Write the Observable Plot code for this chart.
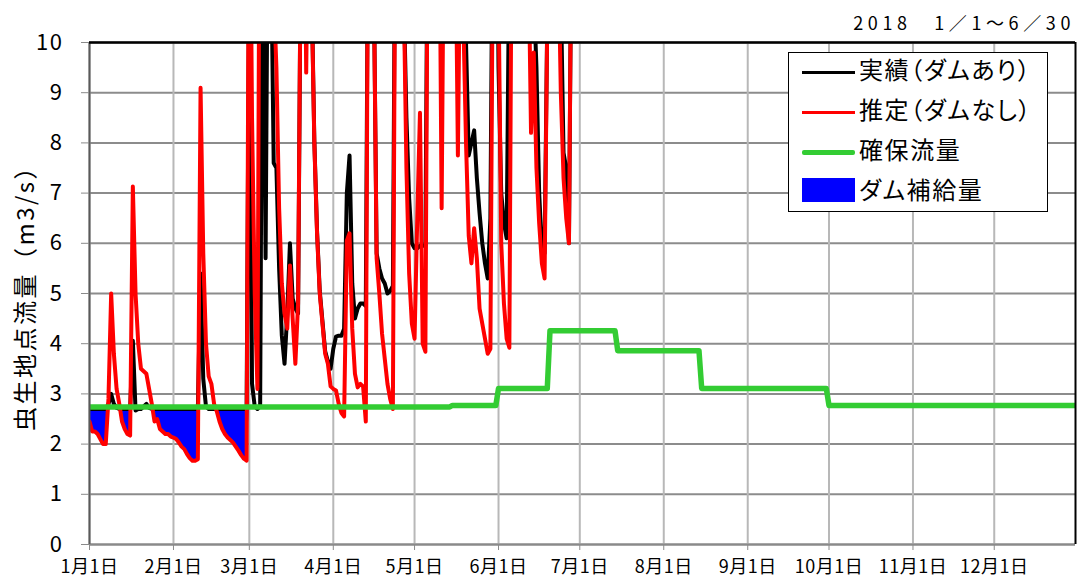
<!DOCTYPE html>
<html><head><meta charset="utf-8">
<script src="https://cdn.jsdelivr.net/npm/d3@7"></script>
<script src="https://cdn.jsdelivr.net/npm/@observablehq/plot@0.6"></script>
<style>
body{margin:0;background:#fff;}
#wrap{position:relative;width:1079px;height:581px;font-family:'Noto Sans CJK JP',sans-serif;color:#000;}
#title{position:absolute;right:4px;top:9px;font-size:18px;line-height:26px;letter-spacing:4.6px;white-space:nowrap;}
#legend{position:absolute;left:788px;top:52px;width:260px;height:160px;border:1.5px solid #000;background:#fff;box-sizing:border-box;}
.lt{position:absolute;left:70px;font-size:24px;line-height:28px;white-space:nowrap;font-feature-settings:"palt";letter-spacing:1.6px;}
.ls{position:absolute;left:13px;width:53px;}
</style></head>
<body><div id="wrap"><div id="chart"></div>
<div id="title">2018　1／1～6／30</div>
<div id="legend">
 <div class="ls" style="top:18px;height:3px;background:#000"></div><div class="lt" style="top:2px">実績（ダムあり）</div>
 <div class="ls" style="top:58px;height:3px;background:#ff0000"></div><div class="lt" style="top:42px">推定（ダムなし）</div>
 <div class="ls" style="top:97px;height:5px;background:#33cc33;border-radius:2px"></div><div class="lt" style="top:82px">確保流量</div>
 <div class="ls" style="top:125px;height:24px;background:#0000ff"></div><div class="lt" style="top:122px">ダム補給量</div>
</div>
</div>
<script>
// daily values from 2018-01-01 to 2018-06-30
const startDate = "2018-01-01";
const actual = [
 2.7,2.7,2.7,2.7,2.7,2.7,2.7,2.8,3.0,2.8,2.72,2.7,2.7,2.7,2.7,2.7,4.06,2.67,2.7,2.7,2.75,2.8,2.72,2.7,2.7,2.7,2.7,2.7,2.7,2.7,2.7,
 2.7,2.7,2.7,2.7,2.7,2.7,2.7,2.7,2.7,2.7,5.4,3.3,2.75,2.7,2.7,2.7,2.7,2.7,2.7,2.7,2.7,2.7,2.7,2.7,2.7,2.7,2.7,2.7,
 12,3.2,2.75,2.7,2.75,14,5.7,14,12,7.6,7.5,5.5,4.16,3.6,4.6,6.0,4.9,4.7,4.6,12,15,13,14,11.1,8.05,6.25,5.05,4.45,3.85,3.65,3.5,
 3.9,4.14,4.16,4.16,4.3,7.0,7.75,5.2,4.5,4.7,4.8,4.8,4.75,14,16,11,5.8,5.5,5.3,5.2,5.0,5.05,5.15,14,20,16,11,8.5,6.9,6.0,
 5.9,5.9,5.95,5.95,5.95,14,18,20,17,15,15,18,20,16,14,14,14,14,13,10,7.75,8.0,8.25,7.3,6.6,6.0,5.6,5.3,6.5,14,16,
 9.5,7.0,6.4,6.1,12,14,16,20,18,15,13,12,12,11,9.5,7.0,5.9,5.8,10.5,16,20,17,12,11,7.8,7.5,6.0,13,15,14
];
const estimated = [
 2.45,2.25,2.25,2.2,2.1,2.0,2.0,2.9,5.0,3.8,3.1,2.8,2.45,2.3,2.2,2.17,7.13,5.0,4.0,3.5,3.45,3.4,3.1,2.8,2.45,2.5,2.3,2.25,2.2,2.2,2.15,
 2.13,2.1,2.03,1.95,1.9,1.8,1.72,1.67,1.67,1.7,9.1,5.8,4.0,3.35,3.2,2.8,2.65,2.45,2.3,2.2,2.13,2.08,2.03,1.95,1.87,1.78,1.71,1.67,
 15,8.5,5.0,3.1,16,20,18,15,13,11,9.5,6.7,5.2,4.6,4.3,5.56,4.5,3.6,4.8,12,15,9.4,14,11,8,6.2,5.0,4.4,3.8,3.6,3.15,
 3.1,3.07,2.8,2.62,2.55,6.05,6.2,4.3,3.4,3.13,3.2,3.15,2.45,15,18,11,5.7,5.0,4.2,3.7,3.2,2.9,2.7,14,20,16,11,7.5,5.4,4.4,
 4.1,6.5,8.6,4.0,3.84,14,18,20,17,14,6.7,14,18,20,16,13,7.75,13,10.5,8.0,6.15,5.6,6.3,5.7,4.7,4.4,4.1,3.8,3.9,13,18,
 11,6.0,4.8,4.1,3.92,14,16,20,18,15,13,12,8.2,9.8,7.5,6.4,5.6,5.3,10.5,16,20,17,12,9.0,7.3,6.5,6.0,13,15,14
];
// required flow (確保流量) breakpoints
const greenDates = ["2018-01-01","2018-05-14","2018-05-15","2018-05-31","2018-06-01","2018-06-19","2018-06-20","2018-07-14","2018-07-15","2018-08-14","2018-08-15","2018-09-30","2018-10-01","2018-12-31"];
const greenValues = [2.74,2.74,2.77,2.77,3.11,3.11,4.26,4.26,3.86,3.86,3.11,3.11,2.77,2.77];
const supplyEndDate = "2018-04-10";
const monthTickLabels = ["1月1日","2月1日","3月1日","4月1日","5月1日","6月1日","7月1日","8月1日","9月1日","10月1日","11月1日","12月1日"];
const yTicks = [0,1,2,3,4,5,6,7,8,9,10];
const xDomain = ["2018-01-01","2018-12-31"];
const yLabel = "虫生地点流量（m3/s）";

const parse = s => new Date(s + "T00:00:00Z");
const t0 = parse(startDate);
const dayOf = i => new Date(t0.getTime() + i * 864e5);
const flow = actual.map((v, i) => ({date: dayOf(i), actual: v, est: estimated[i]}));
const green = greenDates.map((d, i) => ({date: parse(d), v: greenValues[i]}));
function greenAt(date) {
  for (let i = 0; i < green.length - 1; i++) {
    const a = green[i], b = green[i + 1];
    if (date >= a.date && date <= b.date) {
      const t = (date - a.date) / ((b.date - a.date) || 1);
      return a.v + t * (b.v - a.v);
    }
  }
  return green[green.length - 1].v;
}
const supplyEnd = parse(supplyEndDate);
const supply = flow.filter(d => d.date <= supplyEnd).map(d => {
  const g = greenAt(d.date);
  return {date: d.date, lo: Math.min(d.est, g), hi: g};
});
const monthTicks = monthTickLabels.map((_, m) => new Date(Date.UTC(2018, m, 1)));
const x0 = parse(xDomain[0]), x1 = parse(xDomain[1]);

const chart = Plot.plot({
  width: 1079, height: 581,
  marginLeft: 89, marginRight: 4, marginTop: 42, marginBottom: 37,
  style: {fontFamily: "'Noto Sans CJK JP', sans-serif", background: "white", color: "black"},
  x: {type: "utc", domain: [x0, x1]},
  y: {domain: [0, 10]},
  marks: [
    Plot.gridY(yTicks, {stroke: "#8c8c8c", strokeOpacity: 1, strokeWidth: 2}),
    Plot.gridX(monthTicks, {stroke: "#b8b8b8", strokeOpacity: 1, strokeWidth: 2}),
    Plot.areaY(supply, {x: "date", y1: "lo", y2: "hi", fill: "#0000ff"}),
    Plot.lineY(flow, {x: "date", y: "actual", stroke: "#000000", strokeWidth: 4, clip: true, strokeLinejoin: "round"}),
    Plot.lineY(flow, {x: "date", y: "est", stroke: "#ff0000", strokeWidth: 4, clip: true, strokeLinejoin: "round"}),
    Plot.lineY(green, {x: "date", y: "v", stroke: "#33cc33", strokeWidth: 5.5, clip: true}),
    Plot.ruleY([0], {stroke: "#8a8a8a", strokeWidth: 2}),
    Plot.ruleX([x0], {stroke: "#5a5a5a", strokeWidth: 2}),
    Plot.ruleY([10], {stroke: "#000", strokeWidth: 2.5}),
    Plot.ruleX([x1], {stroke: "#000", strokeWidth: 2}),
    Plot.axisY(yTicks, {tickSize: 8, tickPadding: 18, fontSize: 22, stroke: "#8a8a8a", label: null,
      tickFormat: d => String(d)}),
    Plot.axisX(monthTicks, {tickSize: 6, tickPadding: 10, fontSize: 18, stroke: "#8a8a8a", label: null,
      tickFormat: d => monthTickLabels[d.getUTCMonth()]})
  ]
});
const svg = d3.select(chart);
svg.selectAll('g[aria-label="y-axis tick label"]').attr("font-size", 22).style("font-size", "22px").style("letter-spacing", "1.5px");
svg.selectAll('g[aria-label="x-axis tick label"]').attr("font-size", 18).style("font-size", "18px").style("letter-spacing", "0.5px");
svg.append("text")
  .attr("transform", "translate(23,292) rotate(-90)")
  .attr("text-anchor", "middle").attr("dominant-baseline", "central")
  .style("font-size", "24px").style("letter-spacing", "2.5px").attr("fill", "black")
  .text(yLabel);
document.getElementById("chart").appendChild(chart);
</script></body></html>
